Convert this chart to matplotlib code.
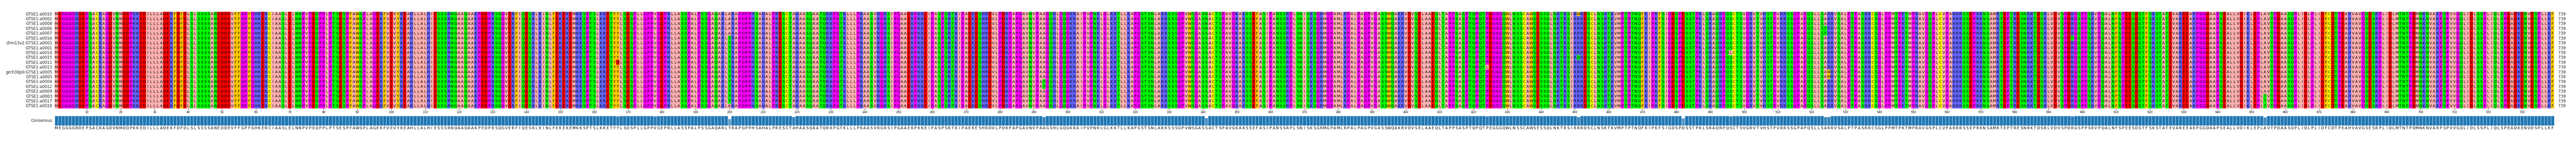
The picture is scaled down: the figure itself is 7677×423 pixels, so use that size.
import matplotlib
matplotlib.use("Agg")
import matplotlib.pyplot as plt
import numpy as np
from collections import Counter
from matplotlib.colors import LinearSegmentedColormap, to_rgb

names = ["GTSE1:a0010", "GTSE1:a0002", "GTSE1:a0008", "GTSE1:a0006", "GTSE1:a0007",
         "GTSE1:a0016", "chm13v2:GTSE1:a0001", "GTSE1:a0001", "GTSE1:a0014", "GTSE1:a0015",
         "GTSE1:a0011", "GTSE1:a0013", "grch38p0:GTSE1:a0005", "GTSE1:a0005", "GTSE1:a0004",
         "GTSE1:a0012", "GTSE1:a0009", "GTSE1:a0003", "GTSE1:a0017", "GTSE1:a0018"]

base_seq = (
    "MEGGGGRDEP" "SACRAGDVNM" "DDPKKEDILL" "LADEKFDFDL" "SLSSSSANED"
    "DEVFFGPFGH" "KERCIAASLE" "LNNPVPEQPP" "LPTSESPFAW" "SPLAGEKFVE"
    "VYKEAHLLAL" "HIESSSRNQA" "AQAAKPEDPR" "SQGVERFIQE" "SKLKINLFEK"
    "EKEMKKSPTS" "LKRETYYLSD" "SPLLGPPVGE" "PRLLASSPAL" "PSSGAQARLT"
    "RAPGPPHSAH" "ALPRESCTAH" "AASQAATQRK" "PGTKLLLPRA" "ASVRGRSIPG"
    "AAEKPKKEIP" "ASPSRTKIPA" "EKESHRDVLP" "DKPAPGAVNV" "PAAGSHLGQG"
    "KRAIPVPNKL" "GLKKTLLKAP" "GSTSNLARKS" "SSGPVWSGAS" "SACTSPAVGK"
    "AKSSEFASIP" "ANSSRPLSNI" "SKSGRMGPAM" "LRPALPAGPV" "GASSWQAKRV"
    "DVSELAAEQL" "TAPPSASPTQ" "PQTPEGGGQW" "LNSSCAWSES" "SQLNKTRSIR"
    "RRDSCLNSKT" "KVMPTPTNQF" "KIPKFSIGDS" "PDSSTPKLSR" "AQRPQSCTSV"
    "GRVTVHSTPV" "RRSSGPAPQS" "LLSARRVSAL" "PTPASRRCSG" "LPPMTPKTMP"
    "RAVGSPLCVP" "ARRRSSEPRK" "NSAMRTEPTR" "ESNRKTDSRL" "VDVSPDRGSP"
    "PSRVPQALNF" "SPEESDSTFS" "KSTATEVARE" "EAKPGGDAAP" "SEALLVDIKL"
    "EPLAVTPDAA" "SQPLIDLPLI" "DFCDTPEAHV" "AVGSESRPLI" "DLMTNTPDMN"
    "KNVAKPSPVV" "GQLIDLSSPL" "IQLSPEADKE" "NVDSPLLKF"
)

# (row index, 1-based column, residue)
variants = [
    (10, 167, "D"), (4, 178, "L"),
    (0, 200, "A"), (1, 200, "A"), (2, 200, "A"), (3, 200, "A"), (4, 200, "A"), (19, 200, "A"),
    (14, 219, "V"), (15, 219, "V"), (14, 293, "T"), (15, 293, "T"),
    (0, 341, "N"), (1, 341, "N"), (2, 341, "N"), (3, 341, "N"),
    (11, 424, "L"), (0, 451, "W"), (9, 451, "Q"),
    (0, 482, "E"), (1, 482, "E"), (15, 482, "E"), (16, 482, "E"), (18, 482, "E"),
    (8, 496, "L"), (3, 524, "T"), (4, 524, "T"), (12, 525, "W"), (13, 525, "W"),
    (5, 597, "T"), (17, 654, "T"), (18, 654, "T"), (19, 654, "T"),
]

zappo = {}
for aa in "AILMV": zappo[aa] = "#ffafaf"
for aa in "FWY": zappo[aa] = "#ffc800"
for aa in "KRH": zappo[aa] = "#6464ff"
for aa in "DE": zappo[aa] = "#ff0000"
for aa in "STNQ": zappo[aa] = "#00ff00"
for aa in "GP": zappo[aa] = "#ff00ff"
zappo["C"] = "#ffff00"

seqs = [list(base_seq) for _ in names]
for r, c, aa in variants:
    seqs[r][c - 1] = aa
nrow, ncol = len(seqs), len(base_seq)

cons, ident = [], []
for j in range(ncol):
    cnt = Counter(s[j] for s in seqs).most_common(1)[0]
    cons.append(cnt[0]); ident.append(cnt[1] / nrow)

W, H = 7677, 423
fig = plt.figure(figsize=(W / 100, H / 100), dpi=100)
left, right = 163 / W, 7612 / W
ax = fig.add_axes([left, (H - 323) / H, right - left, 288 / H])
img = np.array([[to_rgb(zappo.get(a, "#ffffff")) for a in s] for s in seqs])
ax.imshow(img, aspect="auto", extent=(0, ncol, nrow, 0), interpolation="nearest")
for i, s in enumerate(seqs):
    for j, a in enumerate(s):
        ax.text(j + 0.5, i + 0.5, a, ha="center", va="center", fontsize=8, color="black")
    ax.text(-0.7, i + 0.5, names[i], ha="right", va="center", fontsize=8.5, color="#222222")
    ax.text(ncol + 1.2, i + 0.5, str(ncol), ha="left", va="center", fontsize=8.5, color="#222222")
ax.set_xlim(0, ncol); ax.set_ylim(nrow, 0)
ticks = list(range(10, ncol + 1, 10))
ax.set_xticks([t - 0.5 for t in ticks])
ax.set_xticklabels([str(t) for t in ticks], fontsize=6)
ax.tick_params(axis="x", length=3, pad=2)
ax.set_yticks([])
for sp in ax.spines.values():
    sp.set_visible(False)

ax2 = fig.add_axes([left, (H - 374) / H, right - left, 29 / H])
cmap = LinearSegmentedColormap.from_list("c", ["white", "#1f77b4"])
x = np.arange(ncol) + 0.5
ax2.bar(x, ident, width=1.0, color=[cmap(v) for v in ident], edgecolor="#d8e6f0", linewidth=0.8)
for j, a in enumerate(cons):
    ax2.text(j + 0.5, -0.28, a, ha="center", va="center", fontsize=8, color="black")
ax2.text(-0.7, 0.5, "Consensus", ha="right", va="center", fontsize=8.5, color="#222222")
ax2.set_xlim(0, ncol); ax2.set_ylim(0, 1)
ax2.set_xticks([]); ax2.set_yticks([])
for sp in ax2.spines.values():
    sp.set_visible(False)

fig.savefig("out.png", dpi=100)
